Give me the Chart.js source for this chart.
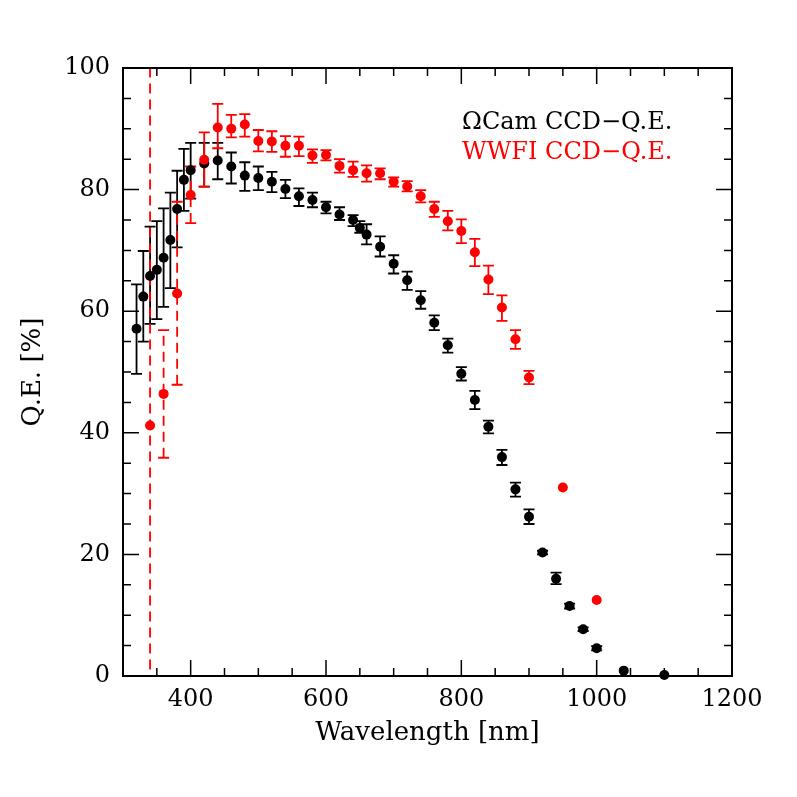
<!DOCTYPE html>
<html><head><meta charset="utf-8">
<script src="https://cdn.jsdelivr.net/npm/chart.js@4"></script>
<style>html,body{margin:0;padding:0;background:#fff}canvas{display:block}</style>
</head><body>
<canvas id="c" width="797" height="797"></canvas>
<script>
// ΩCam CCD quantum efficiency (black)
const omegaWave = [320,330,340,350,360,370,380,390,400,420,440,460,480,500,520,540,560,580,600,620,640,650,660,680,700,720,740,760,780,800,820,840,860,880,900,920,940,960,980,1000,1040,1100];
const omegaQE   = [57.1,62.4,65.8,66.8,68.8,71.7,76.8,81.6,83.2,84.3,84.8,83.8,82.3,81.9,81.3,80.1,78.9,78.3,77.1,75.9,75.0,73.7,72.6,70.6,67.8,65.1,61.8,58.1,54.4,49.7,45.4,41.0,36.0,30.7,26.2,20.3,16.0,11.5,7.7,4.55,0.88,0.16];
const omegaLo   = [49.7,55.0,57.9,58.7,60.7,63.8,70.5,76.5,78.5,80.5,81.7,81.0,79.8,79.9,79.6,78.6,77.3,77.1,76.1,75.0,74.0,72.9,71.0,69.0,66.2,63.5,60.4,56.9,53.2,48.6,43.9,39.9,34.7,29.5,25.0,20.0,15.1,11.1,7.4,4.2,null,null];
const omegaHi   = [64.4,69.9,73.9,74.8,76.9,79.5,83.1,86.7,87.7,87.7,87.7,86.1,84.5,83.8,82.9,81.6,80.2,79.5,78.0,77.1,75.8,74.8,74.3,72.3,69.2,66.5,63.3,59.3,55.5,50.8,46.9,42.0,37.2,31.8,27.4,20.6,17.0,11.9,8.0,4.9,null,null];

// WWFI CCD quantum efficiency (red)
const wwfiWave = [340,360,380,400,420,440,460,480,500,520,540,560,580,600,620,640,660,680,700,720,740,760,780,800,820,840,860,880,900,950,1000];
const wwfiQE   = [41.2,46.4,62.9,79.1,84.9,90.2,90.0,90.7,88.0,87.9,87.2,87.2,85.6,85.7,83.9,83.2,82.7,82.7,81.3,80.5,78.9,76.8,74.8,73.2,69.7,65.2,60.6,55.4,49.1,31.0,12.5];
const wwfiLo   = [-20,35.9,47.9,74.5,80.5,86.8,88.6,88.7,86.3,86.2,85.4,85.5,84.4,84.8,82.8,82.1,81.3,81.7,80.5,79.7,77.9,75.5,73.3,71.2,67.4,62.8,58.4,53.8,48.0,null,null];
const wwfiHi   = [120,56.9,78.0,83.8,89.4,94.1,92.3,92.4,89.8,89.6,88.8,88.7,86.6,86.5,85.0,84.6,84.0,83.5,82.0,81.4,79.9,78.0,76.5,75.1,71.9,67.5,62.6,56.9,50.2,null,null];
const wwfiDashed = [true,true,true,true];

const xTicks = [400,600,800,1000,1200];
const yTicks = [0,20,40,60,80,100];
const legendLabels = ['\u03A9Cam CCD\u2212Q.E.','WWFI CCD\u2212Q.E.'];
const colors = ['#000000','#ff0000'];

const TICKFONT = {family:"'DejaVu Serif', serif", size:24};
const TITLEFONT = {family:"'DejaVu Serif', serif", size:26};

const errInfo = [
  {wave:omegaWave, lo:omegaLo, hi:omegaHi, dashed:[], color:colors[0]},
  {wave:wwfiWave, lo:wwfiLo, hi:wwfiHi, dashed:wwfiDashed, color:colors[1]}
];

const errorBars = {
  id:'errorBars',
  beforeDatasetsDraw(chart){
    const {ctx, chartArea:a, scales:{x,y}} = chart;
    ctx.save();
    ctx.beginPath(); ctx.rect(a.left,a.top,a.right-a.left,a.bottom-a.top); ctx.clip();
    errInfo.forEach(e=>{
      ctx.strokeStyle = e.color; ctx.lineWidth = 1.8;
      e.wave.forEach((w,i)=>{
        const lo = e.lo[i], hi = e.hi[i];
        if(lo==null||hi==null) return;
        const px = x.getPixelForValue(w);
        const p1 = y.getPixelForValue(lo), p2 = y.getPixelForValue(hi);
        ctx.setLineDash(e.dashed[i] ? [10,6] : []);
        ctx.beginPath(); ctx.moveTo(px,p1); ctx.lineTo(px,p2); ctx.stroke();
        ctx.setLineDash([]);
        ctx.beginPath();
        ctx.moveTo(px-5.5,p1); ctx.lineTo(px+5.5,p1);
        ctx.moveTo(px-5.5,p2); ctx.lineTo(px+5.5,p2);
        ctx.stroke();
      });
    });
    ctx.restore();
  }
};

const frameTicks = {
  id:'frameTicks',
  beforeDatasetsDraw(chart){
    const {ctx, chartArea:a, scales:{x,y}} = chart;
    ctx.save();
    ctx.strokeStyle='#000';
    ctx.lineWidth=1.5;
    ctx.beginPath();
    for(let v=x.min; v<=x.max; v+=50){
      const major = v % 200 === 0;
      const L = major ? 16 : 8;
      const px = x.getPixelForValue(v);
      ctx.moveTo(px,a.bottom); ctx.lineTo(px,a.bottom-L);
      ctx.moveTo(px,a.top); ctx.lineTo(px,a.top+L);
    }
    for(let v=y.min; v<=y.max; v+=5){
      const major = v % 20 === 0;
      const L = major ? 16 : 8;
      const py = y.getPixelForValue(v);
      ctx.moveTo(a.left,py); ctx.lineTo(a.left+L,py);
      ctx.moveTo(a.right,py); ctx.lineTo(a.right-L,py);
    }
    ctx.stroke();
    ctx.lineWidth=2;
    ctx.strokeRect(a.left,a.top,a.right-a.left,a.bottom-a.top);
    ctx.restore();
  },
  afterDraw(chart){
    const {ctx} = chart;
    ctx.save();
    ctx.font = "24px 'DejaVu Serif', serif";
    ctx.textAlign='left'; ctx.textBaseline='alphabetic';
    ctx.fillStyle=colors[0]; ctx.fillText(legendLabels[0], 462, 129);
    ctx.fillStyle=colors[1]; ctx.fillText(legendLabels[1], 462, 159);
    ctx.restore();
  }
};

new Chart(document.getElementById('c'), {
  type:'scatter',
  data:{datasets:[
    {label:legendLabels[0], data:omegaWave.map((w,i)=>({x:w,y:omegaQE[i]})), backgroundColor:colors[0], borderColor:colors[0], pointRadius:5, pointHoverRadius:5, borderWidth:0, clip:false, order:2},
    {label:legendLabels[1], data:wwfiWave.map((w,i)=>({x:w,y:wwfiQE[i]})), backgroundColor:colors[1], borderColor:colors[1], pointRadius:5, pointHoverRadius:5, borderWidth:0, clip:false, order:1}
  ]},
  options:{
    responsive:false, animation:false, devicePixelRatio:1,
    layout:{padding:{left:18, top:68, right:65, bottom:40}},
    plugins:{legend:{display:false}, tooltip:{enabled:false}},
    scales:{
      x:{type:'linear', min:300, max:1200,
        afterFit(s){ s.height = 81; },
        afterBuildTicks(s){ s.ticks = xTicks.map(v=>({value:v})); },
        grid:{display:false, drawTicks:false}, border:{display:false},
        ticks:{font:TICKFONT, color:'#000', padding:9, maxRotation:0, autoSkip:false, callback:v=>String(v)},
        title:{display:true, text:'Wavelength [nm]', font:TITLEFONT, color:'#000', padding:{top:0,bottom:8}}
      },
      y:{type:'linear', min:0, max:100,
        afterFit(s){ s.width = 105; },
        afterBuildTicks(s){ s.ticks = yTicks.map(v=>({value:v})); },
        grid:{display:false, drawTicks:false}, border:{display:false},
        ticks:{font:TICKFONT, color:'#000', padding:13, callback:v=>String(v)},
        title:{display:true, text:'Q.E. [%]', font:TITLEFONT, color:'#000', padding:{top:0,bottom:0}}
      }
    }
  },
  plugins:[errorBars, frameTicks]
});
</script>
</body></html>
